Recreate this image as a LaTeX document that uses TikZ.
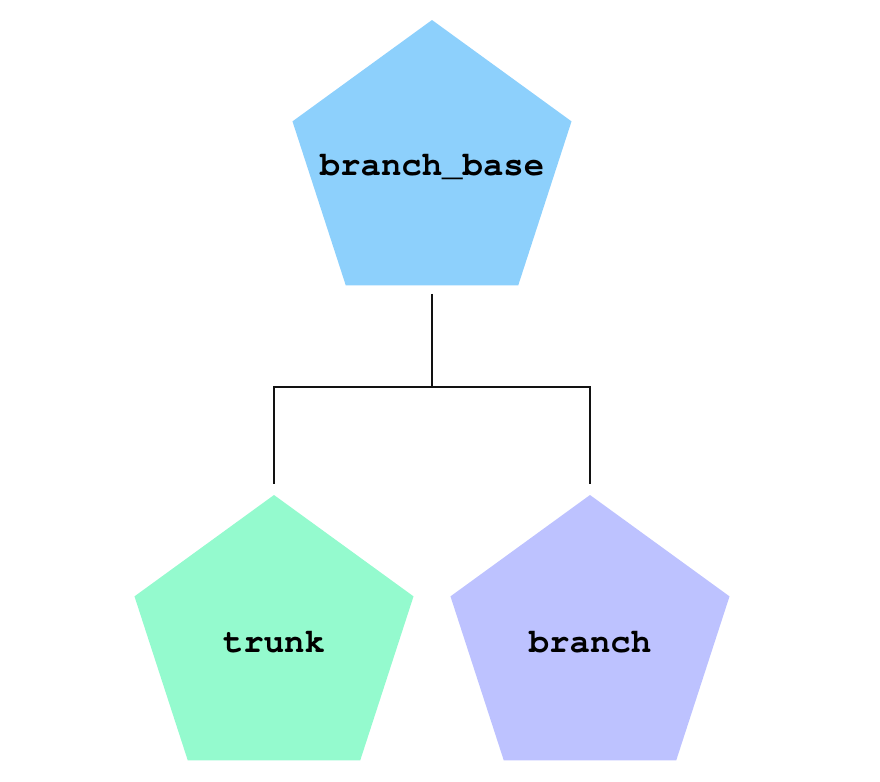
\documentclass[tikz,border=0pt]{standalone}
\usepackage[T1]{fontenc}
\usepackage{tikz}
\usetikzlibrary{shapes.geometric,positioning}
\definecolor{baseblue}{RGB}{141,208,252}
\definecolor{trunkgreen}{RGB}{148,250,206}
\definecolor{branchviolet}{RGB}{189,194,255}
\newcommand{\pentfont}{\fontencoding{T1}\fontfamily{pcr}\fontseries{b}\fontsize{17}{20}\selectfont}

\begin{document}
\begin{tikzpicture}[x=0.5pt,y=-0.5pt,
      every node/.style={align=center},
      pent/.style={regular polygon, regular polygon sides=5, minimum size=146.7pt,
        inner sep=0pt, outer sep=4.25pt},
      every label/.style={font=\pentfont, inner sep=0pt},
      link/.style={line width=1.4pt, draw=black!93}]
    \useasboundingbox (0,0) rectangle (880,782);
    \node[pent,fill=baseblue,label={center:branch\_base}] (base) at (432,166.7) {};
    \node[pent,fill=trunkgreen,label={center:trunk}] (trunk) at (274,641.7) {};
    \node[pent,fill=branchviolet,label={center:branch}] (branch) at (590,641.7) {};
    \coordinate (fork) at (432,387);
    \draw[link] (base.south) -- (fork);
    \draw[link] (fork) -| (trunk.north);
    \draw[link] (fork) -| (branch.north);
  \end{tikzpicture}
\end{document}
